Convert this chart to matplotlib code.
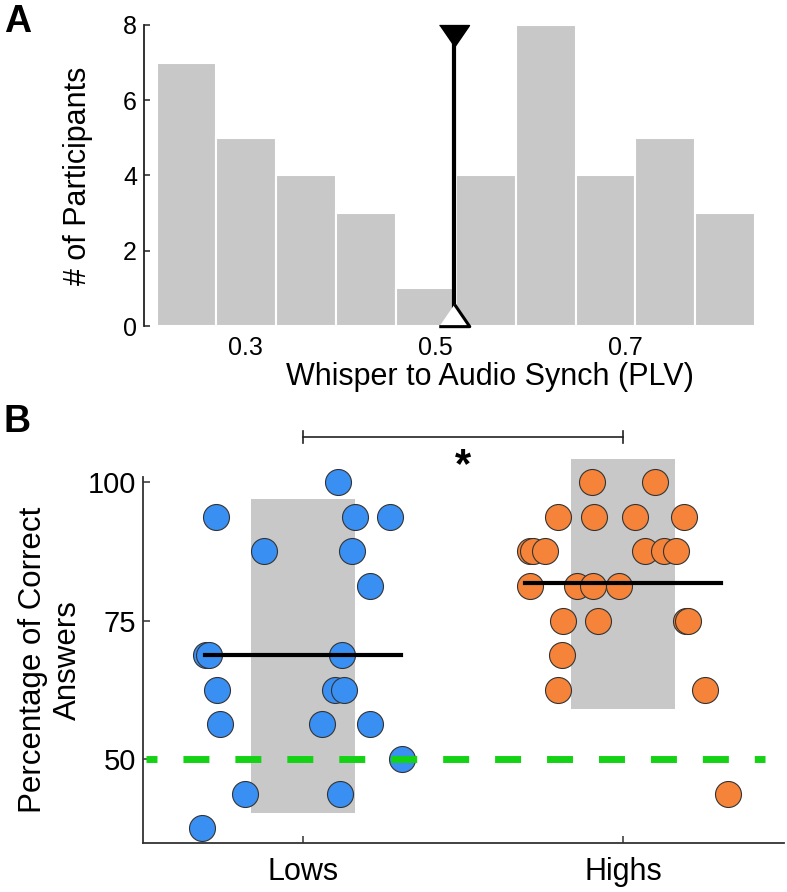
import numpy as np
import matplotlib
matplotlib.use("Agg")
import matplotlib.pyplot as plt

plt.rcParams['font.family'] = ['Liberation Sans', 'DejaVu Sans']

# panel A: histogram of whisper-to-audio synchrony
bin_centers = [0.2385, 0.3015, 0.3645, 0.4275, 0.4905, 0.5535, 0.6165, 0.6795, 0.7425, 0.8055]
bin_width = 0.063
counts = [7, 5, 4, 3, 1, 4, 8, 4, 5, 3]
split_plv = 0.52
hist_ticks = [0.3, 0.5, 0.7]
hist_yticks = [0, 2, 4, 6, 8]

# panel B: percent correct per group (x = jittered group position)
lows_x = [1.109, 0.728, 1.163, 1.272, 0.878, 1.153, 1.209, 0.697, 0.706, 1.122,
          0.731, 1.100, 1.127, 0.741, 1.059, 1.209, 1.309, 0.819, 1.116, 0.684]
lows_y = [100, 93.75, 93.75, 93.75, 87.5, 87.5, 81.25, 68.75, 68.75, 68.75,
          62.5, 62.5, 62.5, 56.25, 56.25, 56.25, 50, 43.75, 43.75, 37.5]
highs_x = [1.903, 2.100, 1.797, 1.909, 2.038, 2.191, 1.709, 1.719, 1.756, 2.069,
           2.128, 2.166, 1.709, 1.856, 1.906, 1.988, 1.813, 1.922, 2.197, 2.203,
           1.809, 1.797, 2.256, 2.328]
highs_y = [100, 100, 93.75, 93.75, 93.75, 93.75, 87.5, 87.5, 87.5, 87.5,
           87.5, 87.5, 81.25, 81.25, 81.25, 81.25, 75, 75, 75, 75,
           68.75, 62.5, 62.5, 43.75]
groups = ['Lows', 'Highs']
group_pos = [1, 2]
box_low = [40.25, 59.0]
box_high = [96.9, 104.2]
chance = 50

fig = plt.figure(figsize=(7.87, 8.92), dpi=100)

# ---- A ----
axA = fig.add_axes([144/787, 566/892, 614/787, 301/892])
axA.bar(bin_centers, counts, width=bin_width, color='#c8c8c8',
        edgecolor='white', linewidth=1.5)
axA.plot([split_plv, split_plv], [0.3, 7.7], color='black', lw=3, zorder=3)
tri_down = [(-1, 0.73), (1, 0.73), (0, -0.73)]
tri_up = [(-1, -0.73), (1, -0.73), (0, 0.73)]
axA.plot([split_plv], [7.71], marker=tri_down, ms=21.6, color='black',
         zorder=4, clip_on=False)
axA.plot([split_plv], [0.3], marker=tri_up, ms=22, markerfacecolor='white',
         markeredgecolor='black', mew=2.2, zorder=4, clip_on=False)
axA.set_xlim(0.1937, 0.84)
axA.set_ylim(0, 8)
axA.set_xticks(hist_ticks)
axA.set_xticklabels(['0.3', '0.5', '0.7'])
axA.set_yticks(hist_yticks)
for s in ['top', 'right', 'bottom']:
    axA.spines[s].set_visible(False)
axA.spines['left'].set_color('#222222')
axA.spines['left'].set_linewidth(1.3)
axA.tick_params(axis='y', direction='in', length=4.5, width=1.1,
                labelsize=18, pad=5, color='#222222')
axA.tick_params(axis='x', length=0, labelsize=18, pad=7)
axA.set_ylabel('# of Participants', fontsize=22)
axA.yaxis.set_label_coords(-0.083, 0.5)
axA.set_xlabel('Whisper to Audio Synch (PLV)', fontsize=22)
axA.xaxis.set_label_coords(0.564, -0.12)

# ---- B ----
axB = fig.add_axes([143/787, 49/892, 641/787, 366.5/892])
axB.bar(group_pos, np.array(box_high) - np.array(box_low), bottom=box_low,
        width=0.325, color='#c8c8c8', zorder=1, clip_on=False)
axB.scatter(lows_x, lows_y, s=350, color='#3a8ff2', edgecolor='#333333',
            linewidth=0.8, zorder=2, clip_on=False)
axB.scatter(highs_x, highs_y, s=350, color='#f5843a', edgecolor='#333333',
            linewidth=0.8, zorder=2, clip_on=False)
means = [np.mean(lows_y), np.mean(highs_y)]
for p, m in zip(group_pos, means):
    axB.plot([p - 0.305, p + 0.305], [m, m], color='black', lw=3, zorder=3)
axB.plot([0.51, 2.445], [chance, chance], color='#14d214', lw=5,
         linestyle=(2.16, (3.74, 3.74)), zorder=4, solid_capstyle='butt',
         dash_capstyle='butt')

# significance bracket
axB.plot([1, 2], [108.1, 108.1], color='#222222', lw=1.2, clip_on=False)
for p in group_pos:
    axB.plot([p, p], [107.0, 109.2], color='#222222', lw=1.2, clip_on=False)
axB.text(1.5, 100.9, '*', fontsize=30, fontweight='bold', ha='center',
         va='baseline')

axB.set_xlim(0.5, 2.503)
axB.set_ylim(34.84, 101)
axB.set_xticks(group_pos)
axB.set_xticklabels(groups)
axB.set_yticks([50, 75, 100])
for s in ['top', 'right']:
    axB.spines[s].set_visible(False)
for s in ['left', 'bottom']:
    axB.spines[s].set_color('#333333')
    axB.spines[s].set_linewidth(1.3)
axB.tick_params(direction='in', length=5, width=1.1, color='#333333')
axB.tick_params(axis='y', pad=5, labelsize=21)
axB.tick_params(axis='x', pad=10, labelsize=22)
axB.set_ylabel('Percentage of Correct\nAnswers', fontsize=22.5)
axB.yaxis.set_label_coords(-0.094, 0.5)

fig.text(0.005, 0.995, 'A', fontsize=27, fontweight='bold', va='top')
fig.text(0.004, 0.547, 'B', fontsize=27, fontweight='bold', va='top')

fig.savefig('out.png', dpi=100)
